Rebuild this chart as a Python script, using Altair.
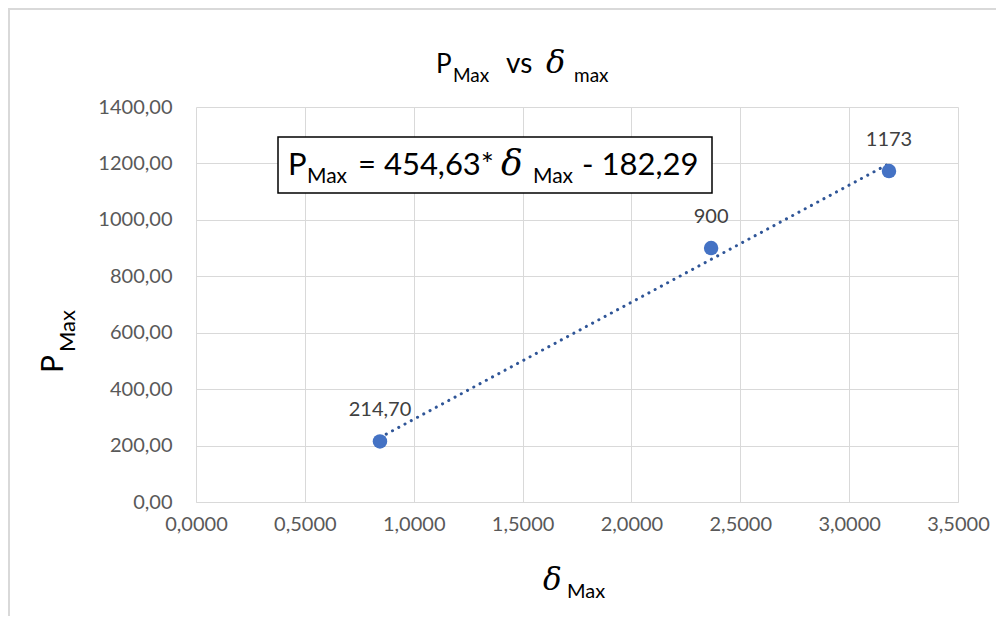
import altair as alt
import pandas as pd

# ---- data ----
x_vals = [0.845, 2.366, 3.183]
y_vals = [214.70, 900.0, 1173.0]
point_labels = ["214,70", "900", "1173"]
x_ticks = [0, 0.5, 1, 1.5, 2, 2.5, 3, 3.5]
y_ticks = [0, 200, 400, 600, 800, 1000, 1200, 1400]
title_parts = ["P", "Max", "vs", "δ", "max"]
equation_parts = ["P", "Max", "= 454,63*", "δ", "Max", "- 182,29"]
x_title_parts = ["δ", "Max"]
y_title_parts = ["P", "Max"]

df = pd.DataFrame({"x": x_vals, "y": y_vals, "label": point_labels})

W, H = 762, 395
FONT = "Lato"
SERIF = "DejaVu Serif"

xs = alt.Scale(domain=[0, 3.5], nice=False, zero=False)
ys = alt.Scale(domain=[0, 1400], nice=False)

xaxis = alt.Axis(values=x_ticks, labelExpr="replace(format(datum.value, '.4f'), '.', ',')",
                 title=None, grid=True, gridColor="#D9D9D9", gridWidth=1,
                 domainColor="#D9D9D9", ticks=False, labelFont=FONT, labelFontSize=20,
                 labelColor="#595959", labelPadding=12, labelFlush=False, labelOverlap=False)
yaxis = alt.Axis(values=y_ticks, labelExpr="replace(format(datum.value, '.2f'), '.', ',')",
                 title=None, grid=True, gridColor="#D9D9D9", gridWidth=1,
                 domain=False, ticks=False, labelFont=FONT, labelFontSize=20,
                 labelColor="#595959", labelPadding=24, labelFlush=False, labelOverlap=False)

base = alt.Chart(df)
one = alt.Data(values=[{}])


def txt(s, x, y, size, font=FONT, style="normal", angle=0, color="#000000", align="left"):
    return alt.Chart(one).mark_text(
        fontSize=size, font=font, fontStyle=style, align=align,
        baseline="alphabetic", angle=angle, color=color
    ).encode(x=alt.value(x), y=alt.value(y), text=alt.value(s))


border = alt.Chart(one).mark_rect(filled=False, stroke="#D9D9D9", strokeWidth=2, clip=False).encode(
    x=alt.value(-187), x2=alt.value(W + 60), y=alt.value(-98), y2=alt.value(H + 160))

trend = base.transform_regression("x", "y").mark_line(
    color="#2F5597", strokeWidth=3, strokeDash=[0.1, 7], strokeCap="round"
).encode(x=alt.X("x:Q", scale=xs, axis=xaxis), y=alt.Y("y:Q", scale=ys, axis=yaxis))

points = base.mark_circle(size=210, color="#4472C4", opacity=1).encode(
    x=alt.X("x:Q", scale=xs), y=alt.Y("y:Q", scale=ys))

labels = base.mark_text(dy=-25, fontSize=20, font=FONT, color="#404040", baseline="alphabetic").encode(
    x=alt.X("x:Q", scale=xs), y=alt.Y("y:Q", scale=ys), text="label:N")

eq_box = alt.Chart(one).mark_rect(fill="white", stroke="#000000", strokeWidth=1.5).encode(
    x=alt.value(82), x2=alt.value(516), y=alt.value(30), y2=alt.value(86))

eq = [
    txt(equation_parts[0], 92, 68, 31),
    txt(equation_parts[1], 111, 76, 21),
    txt(equation_parts[2], 162, 68, 31),
    txt(equation_parts[3], 305, 68, 36, font=SERIF, style="italic"),
    txt(equation_parts[4], 337, 76, 21),
    txt(equation_parts[5], 386, 68, 31),
]

title = [
    txt(title_parts[0], 240, -34, 26),
    txt(title_parts[1], 257, -25, 19),
    txt(title_parts[2], 310, -34, 28),
    txt(title_parts[3], 350, -34, 32, font=SERIF, style="italic"),
    txt(title_parts[4], 378, -25, 19),
]

xtitle = [
    txt(x_title_parts[0], 347, 483, 31, font=SERIF, style="italic"),
    txt(x_title_parts[1], 371, 491, 20),
]

ytitle = [
    txt(y_title_parts[0], -133, 266, 30, angle=270),
    txt(y_title_parts[1], -121, 245, 22, angle=270),
]

chart = alt.layer(border, trend, points, labels, eq_box, *eq, *title, *xtitle, *ytitle).properties(
    width=W, height=H,
    padding={"left": 188, "top": 99, "right": 38, "bottom": 114},
    autosize=alt.AutoSizeParams(type="none"),
    background="white",
).configure_view(strokeWidth=0)

chart.save("out.html", embed_options={"renderer": "svg", "actions": False})
